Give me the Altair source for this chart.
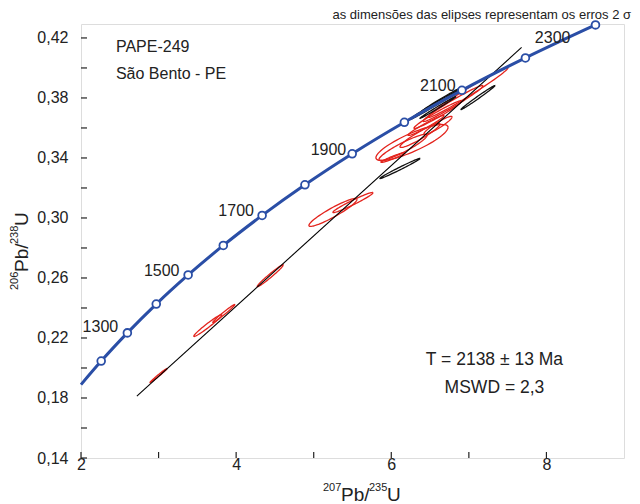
import altair as alt
import pandas as pd

# Concordia curve (207Pb/235U, 206Pb/238U) at marked ages
conc_age = [1116, 1200, 1300, 1400, 1500, 1600, 1700, 1800, 1900, 2000, 2100, 2200, 2300]
conc_x = [2.0, 2.2603, 2.5977, 2.9701, 3.3810, 3.8344, 4.3348, 4.8869, 5.4962, 6.1685, 6.9105, 7.7292, 8.6326]
conc_y = [0.1889, 0.2046, 0.2234, 0.2426, 0.2620, 0.2817, 0.3017, 0.3221, 0.3428, 0.3638, 0.3851, 0.4067, 0.4287]

# age labels
lab_text = ["1300", "1500", "1700", "1900", "2100", "2300"]
lab_x = [2.25, 3.04, 4.00, 5.19, 6.60, 8.08]
lab_y = [0.2272, 0.2649, 0.3049, 0.3455, 0.3882, 0.4202]

# discordia line
disc_x = [2.72, 7.68]
disc_y = [0.1812, 0.4137]

# error ellipses: centre, 2-sigma half widths, correlation, colour
ell_cx = [3.000, 3.635, 3.841, 4.440, 5.248, 5.506, 6.267, 6.151, 6.370, 6.602, 6.022, 6.989, 6.796, 6.602, 6.448,
          6.564, 6.602, 7.118, 6.112, 6.648]
ell_cy = [0.1950, 0.2283, 0.2363, 0.2615, 0.3037, 0.3103, 0.3503, 0.3470, 0.3550, 0.3617, 0.3403, 0.3837, 0.3763, 0.3690, 0.3617,
          0.3757, 0.3737, 0.3803, 0.3330, 0.3790]
ell_sx = [0.110, 0.181, 0.142, 0.168, 0.310, 0.258, 0.465, 0.310, 0.258, 0.181, 0.155, 0.516, 0.387, 0.310, 0.232,
          0.323, 0.232, 0.219, 0.258, 0.258]
ell_sy = [0.0047, 0.0073, 0.0060, 0.0073, 0.0093, 0.0067, 0.0120, 0.0087, 0.0080, 0.0060, 0.0033, 0.0167, 0.0120, 0.0093, 0.0067,
          0.0100, 0.0073, 0.0080, 0.0067, 0.0080]
ell_rho = [0.99, 0.975, 0.985, 0.98, 0.93, 0.97, 0.84, 0.92, 0.94, 0.93, 0.96, 0.985, 0.98, 0.975, 0.97,
           0.995, 0.995, 0.993, 0.99, 0.995]
ell_col = ["red"] * 15 + ["black"] * 5

# axis ticks
x_ticks = [2, 3, 4, 5, 6, 7, 8]
y_ticks = [0.14, 0.16, 0.18, 0.20, 0.22, 0.24, 0.26, 0.28, 0.30, 0.32, 0.34, 0.36, 0.38, 0.40, 0.42]

W, H = 543, 434
FONT = "Liberation Sans"
BLUE = "#2a4ea6"
RED = "#e3231c"
INK = "#222222"

xs = alt.Scale(domain=[2, 9], nice=False, zero=False)
ys = alt.Scale(domain=[0.14, 0.4293], nice=False, zero=False)

conc = pd.DataFrame({"age": conc_age, "x": conc_x, "y": conc_y})
labs = pd.DataFrame({"t": lab_text, "x": lab_x, "y": lab_y})
disc = pd.DataFrame({"x": disc_x, "y": disc_y})
ell = pd.DataFrame({"id": list(range(len(ell_cx))), "cx": ell_cx, "cy": ell_cy, "sx": ell_sx,
                    "sy": ell_sy, "rho": ell_rho, "col": ell_col})
ell["col"] = ell["col"].map({"red": RED, "black": "#111111"})

xaxis = alt.Axis(values=x_ticks, ticks=False, domain=False, grid=False, format="d",
                 labelExpr="datum.value % 2 == 0 ? datum.label : ''", labelFlush=False,
                 labelFont=FONT, labelFontSize=16, labelColor=INK, labelPadding=-2, title=None)
yaxis = alt.Axis(values=y_ticks, ticks=False, domain=False, grid=False, labelFlush=False,
                 labelExpr="round(datum.value*100) % 4 == 2 ? replace(format(datum.value, '.2f'), '.', ',') : ''",
                 labelFont=FONT, labelFontSize=16, labelColor=INK, labelPadding=13, title=None)

ellipses = alt.Chart(ell).transform_calculate(
    k="sequence(0, 73)"
).transform_flatten(["k"]).transform_calculate(
    a="datum.k * PI / 36",
).transform_calculate(
    ex="datum.cx + datum.sx * cos(datum.a)",
    ey="datum.cy + datum.sy * (datum.rho * cos(datum.a) + sqrt(1 - datum.rho * datum.rho) * sin(datum.a))",
).mark_line(strokeWidth=1.3).encode(
    x=alt.X("ex:Q", scale=xs, axis=xaxis),
    y=alt.Y("ey:Q", scale=ys, axis=yaxis),
    detail="id:N",
    order="k:Q",
    color=alt.Color("col:N", scale=None),
)

disc_line = alt.Chart(disc).mark_line(color="black", strokeWidth=1.1).encode(
    x=alt.X("x:Q", scale=xs), y=alt.Y("y:Q", scale=ys))

conc_line = alt.Chart(conc).mark_line(color=BLUE, strokeWidth=3, interpolate="monotone").encode(
    x=alt.X("x:Q", scale=xs), y=alt.Y("y:Q", scale=ys))

conc_pts = alt.Chart(conc).transform_filter("datum.age >= 1200").mark_point(
    shape="circle", filled=True, fill="white", stroke=BLUE, strokeWidth=1.8, size=60, opacity=1
).encode(x=alt.X("x:Q", scale=xs), y=alt.Y("y:Q", scale=ys))

age_text = alt.Chart(labs).mark_text(font=FONT, fontSize=16, color=INK).encode(
    x=alt.X("x:Q", scale=xs), y=alt.Y("y:Q", scale=ys), text="t:N")

info = pd.DataFrame({"t": ["PAPE-249", "São Bento - PE"], "x": [2.45, 2.45], "y": [0.4139, 0.3962]})
info_text = alt.Chart(info).mark_text(font=FONT, fontSize=16, color=INK, align="left").encode(
    x=alt.X("x:Q", scale=xs), y=alt.Y("y:Q", scale=ys), text="t:N")

res = pd.DataFrame({"t": ["T = 2138 ± 13 Ma", "MSWD = 2,3"], "x": [7.33, 7.33], "y": [0.2055, 0.1865]})
res_text = alt.Chart(res).mark_text(font=FONT, fontSize=17.5, color=INK).encode(
    x=alt.X("x:Q", scale=xs), y=alt.Y("y:Q", scale=ys), text="t:N")

xt = alt.Chart(pd.DataFrame({"v": x_ticks})).mark_rule(color=INK, strokeWidth=1.2).encode(
    x=alt.X("v:Q", scale=xs), y=alt.value(H), y2=alt.value(H - 6))
yt = alt.Chart(pd.DataFrame({"v": y_ticks})).mark_rule(color=INK, strokeWidth=1.2).encode(
    y=alt.Y("v:Q", scale=ys), x=alt.value(0), x2=alt.value(6))

# axis titles with superscript mass numbers
xtitle_parts = ["207", "Pb/", "235", "U"]
ytitle_parts = ["206", "Pb/", "238", "U"]
part_size = [11, 19, 11, 19]
part_raise = [10, 0, 10, 0]
part_off = [0, 18, 46, 64]

xtit = pd.DataFrame({"t": xtitle_parts, "fs": part_size, "px": [242 + o for o in part_off],
                     "py": [H + 43 - r for r in part_raise]})
xtitle = alt.Chart(xtit).mark_text(font=FONT, align="left", baseline="alphabetic", color=INK).encode(
    x=alt.X("px:Q", scale=None), y=alt.Y("py:Q", scale=None), text="t:N",
    size=alt.Size("fs:Q", scale=None))

ytit = pd.DataFrame({"t": ytitle_parts, "fs": part_size, "py": [266 - o for o in part_off],
                     "px": [-53 - r for r in part_raise]})
ytitle = alt.Chart(ytit).mark_text(font=FONT, align="left", baseline="alphabetic", color=INK,
                                   angle=270).encode(
    x=alt.X("px:Q", scale=None), y=alt.Y("py:Q", scale=None), text="t:N",
    size=alt.Size("fs:Q", scale=None))

chart = alt.layer(ellipses, disc_line, conc_line, conc_pts, age_text, info_text, res_text, xt, yt,
                  xtitle, ytitle).properties(
    width=W, height=H,
    padding={"left": 81, "top": 24, "right": 16, "bottom": 46},
    autosize=alt.AutoSizeParams(type="none"),
    title=alt.TitleParams("as dimensões das elipses representam os erros 2 σ", anchor="end",
                          fontSize=13, fontWeight="normal", font=FONT, color=INK,
                          offset=4, dx=7, dy=9),
).configure_view(stroke=INK, strokeWidth=1.5).configure(background="white")

chart.save("out.html", embed_options={"renderer": "svg", "actions": False})
